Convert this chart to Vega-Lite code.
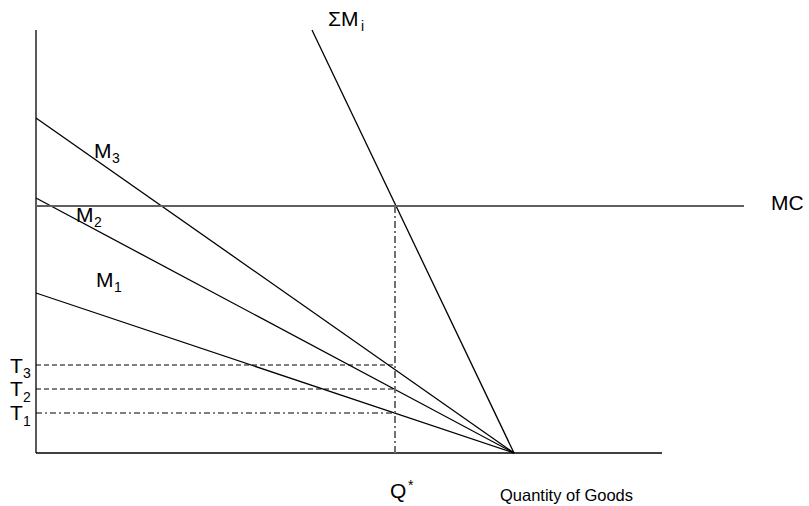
{
  "$schema": "https://vega.github.io/schema/vega-lite/v6.json",
  "width": 809,
  "height": 506,
  "autosize": {"type": "fit", "contains": "padding"},
  "padding": 0,
  "background": "white",
  "config": {"view": {"stroke": null}},
  "datasets": {
    "segs": [
      {"role": "axis", "x1": 0, "y1": 0, "x2": 0, "y2": 423},
      {"role": "axis", "x1": 0, "y1": 0, "x2": 626, "y2": 0},
      {"role": "curve", "name": "SumM", "x1": 276, "y1": 423, "x2": 478, "y2": 0},
      {"role": "curve", "name": "M3", "x1": 0, "y1": 335, "x2": 478, "y2": 0},
      {"role": "curve", "name": "M2", "x1": 0, "y1": 255, "x2": 478, "y2": 0},
      {"role": "curve", "name": "M1", "x1": 0, "y1": 160, "x2": 478, "y2": 0},
      {"role": "MC", "x1": 0, "y1": 247, "x2": 708, "y2": 247},
      {"role": "guideQ", "x1": 359, "y1": 0, "x2": 359, "y2": 247},
      {"role": "guideT", "x1": 0, "y1": 88, "x2": 359, "y2": 88},
      {"role": "guideT", "x1": 0, "y1": 64, "x2": 359, "y2": 64},
      {"role": "guideT1", "x1": 0, "y1": 40, "x2": 359, "y2": 40}
    ],
    "labels": [
      {"kind": "main", "x": 292, "y": 427, "t": "ΣM"},
      {"kind": "sub", "x": 325, "y": 422, "t": "i"},
      {"kind": "main", "x": 58, "y": 295, "t": "M"},
      {"kind": "sub", "x": 76, "y": 290, "t": "3"},
      {"kind": "main", "x": 40, "y": 231, "t": "M"},
      {"kind": "sub", "x": 58, "y": 226, "t": "2"},
      {"kind": "main", "x": 60, "y": 166, "t": "M"},
      {"kind": "sub", "x": 78, "y": 161, "t": "1"},
      {"kind": "main", "x": -26, "y": 80, "t": "T"},
      {"kind": "sub", "x": -13, "y": 75, "t": "3"},
      {"kind": "main", "x": -26, "y": 57, "t": "T"},
      {"kind": "sub", "x": -13, "y": 51, "t": "2"},
      {"kind": "main", "x": -26, "y": 33, "t": "T"},
      {"kind": "sub", "x": -13, "y": 27, "t": "1"},
      {"kind": "main", "x": 354, "y": -45, "t": "Q"},
      {"kind": "sub", "x": 372, "y": -37, "t": "*"},
      {"kind": "main", "x": 735, "y": 243, "t": "MC"},
      {"kind": "axis", "x": 464, "y": -48, "t": "Quantity of Goods"}
    ]
  },
  "layer": [
    {
      "data": {"name": "segs"},
      "transform": [{"filter": "datum.role === 'axis' || datum.role === 'curve'"}],
      "mark": {"type": "rule", "color": "black", "strokeWidth": 1.3},
      "encoding": {
        "x": {"field": "x1", "type": "quantitative", "scale": {"domain": [-36, 773], "nice": false, "zero": false}, "axis": null},
        "y": {"field": "y1", "type": "quantitative", "scale": {"domain": [-53, 453], "nice": false, "zero": false}, "axis": null},
        "x2": {"field": "x2"},
        "y2": {"field": "y2"}
      }
    },
    {
      "data": {"name": "segs"},
      "transform": [{"filter": "datum.role === 'MC'"}],
      "mark": {"type": "rule", "color": "#606060", "strokeWidth": 2},
      "encoding": {
        "x": {"field": "x1", "type": "quantitative", "scale": {"domain": [-36, 773], "nice": false, "zero": false}, "axis": null},
        "y": {"field": "y1", "type": "quantitative", "scale": {"domain": [-53, 453], "nice": false, "zero": false}, "axis": null},
        "x2": {"field": "x2"},
        "y2": {"field": "y2"}
      }
    },
    {
      "data": {"name": "segs"},
      "transform": [{"filter": "datum.role === 'guideQ'"}],
      "mark": {"type": "rule", "color": "#707070", "strokeWidth": 2, "strokeDash": [7, 3, 2, 3]},
      "encoding": {
        "x": {"field": "x1", "type": "quantitative", "scale": {"domain": [-36, 773], "nice": false, "zero": false}, "axis": null},
        "y": {"field": "y1", "type": "quantitative", "scale": {"domain": [-53, 453], "nice": false, "zero": false}, "axis": null},
        "x2": {"field": "x2"},
        "y2": {"field": "y2"}
      }
    },
    {
      "data": {"name": "segs"},
      "transform": [{"filter": "datum.role === 'guideT'"}],
      "mark": {"type": "rule", "color": "black", "strokeWidth": 1, "strokeDash": [5, 3]},
      "encoding": {
        "x": {"field": "x1", "type": "quantitative", "scale": {"domain": [-36, 773], "nice": false, "zero": false}, "axis": null},
        "y": {"field": "y1", "type": "quantitative", "scale": {"domain": [-53, 453], "nice": false, "zero": false}, "axis": null},
        "x2": {"field": "x2"},
        "y2": {"field": "y2"}
      }
    },
    {
      "data": {"name": "segs"},
      "transform": [{"filter": "datum.role === 'guideT1'"}],
      "mark": {"type": "rule", "color": "black", "strokeWidth": 1, "strokeDash": [6, 3, 2, 3]},
      "encoding": {
        "x": {"field": "x1", "type": "quantitative", "scale": {"domain": [-36, 773], "nice": false, "zero": false}, "axis": null},
        "y": {"field": "y1", "type": "quantitative", "scale": {"domain": [-53, 453], "nice": false, "zero": false}, "axis": null},
        "x2": {"field": "x2"},
        "y2": {"field": "y2"}
      }
    },
    {
      "data": {"name": "labels"},
      "transform": [{"filter": "datum.kind === 'main'"}],
      "mark": {"type": "text", "font": "Liberation Sans", "fontSize": 21, "align": "left", "baseline": "alphabetic", "color": "black"},
      "encoding": {
        "x": {"field": "x", "type": "quantitative", "scale": {"domain": [-36, 773], "nice": false, "zero": false}, "axis": null},
        "y": {"field": "y", "type": "quantitative", "scale": {"domain": [-53, 453], "nice": false, "zero": false}, "axis": null},
        "text": {"field": "t"}
      }
    },
    {
      "data": {"name": "labels"},
      "transform": [{"filter": "datum.kind === 'sub'"}],
      "mark": {"type": "text", "font": "Liberation Sans", "fontSize": 14, "align": "left", "baseline": "alphabetic", "color": "black"},
      "encoding": {
        "x": {"field": "x", "type": "quantitative", "scale": {"domain": [-36, 773], "nice": false, "zero": false}, "axis": null},
        "y": {"field": "y", "type": "quantitative", "scale": {"domain": [-53, 453], "nice": false, "zero": false}, "axis": null},
        "text": {"field": "t"}
      }
    },
    {
      "data": {"name": "labels"},
      "transform": [{"filter": "datum.kind === 'axis'"}],
      "mark": {"type": "text", "font": "Liberation Sans", "fontSize": 16.5, "align": "left", "baseline": "alphabetic", "color": "black"},
      "encoding": {
        "x": {"field": "x", "type": "quantitative", "scale": {"domain": [-36, 773], "nice": false, "zero": false}, "axis": null},
        "y": {"field": "y", "type": "quantitative", "scale": {"domain": [-53, 453], "nice": false, "zero": false}, "axis": null},
        "text": {"field": "t"}
      }
    }
  ]
}
